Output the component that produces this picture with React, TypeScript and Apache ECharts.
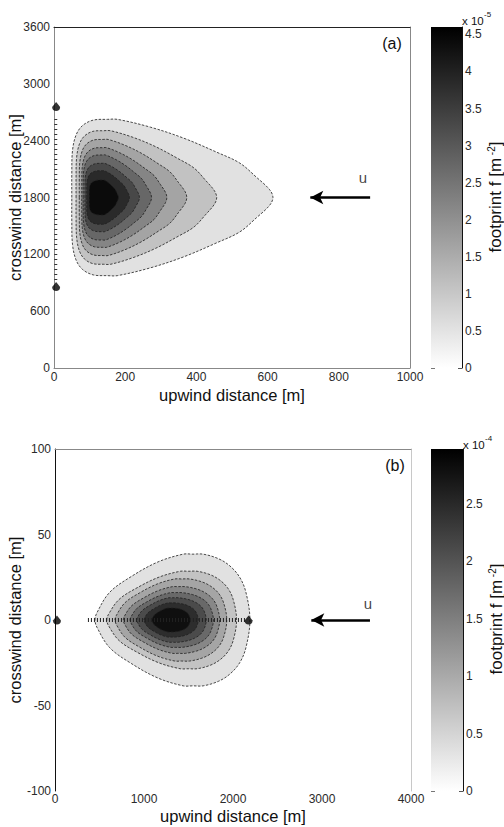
import React, { useEffect, useRef } from 'react';
import * as echarts from 'echarts';

const FONT = '"Liberation Sans", Arial, Helvetica, sans-serif';

// ---------------- Panel (a) ----------------
const aXMin = 0, aXMax = 1000, aXStep = 200;
const aYMin = 0, aYMax = 3600, aYStep = 600;
const aColorMin = 0, aColorMax = 4.6, aColorStep = 0.5; // x 10^-5
const aPlumeCenterY = 1800;
// contour rings, outermost first
const aRingLevel = [0.55, 1.1, 1.65, 2.2, 2.75, 3.3, 3.85, 4.4];
const aRingLeft = [50, 62, 71, 78, 82, 87, 92, 99];
const aRingPeakX = [150, 140, 138, 137, 136, 136, 136, 138];
const aRingRight = [615, 457, 373, 317, 274, 240, 212, 181];
const aRingHalfWidth = [825, 705, 613, 526, 449, 361, 283, 185];
// normalised ring outline (s along x, v = fraction of half width)
const aLeftProfile = [[0, 0], [0, 0.3], [0.02, 0.6], [0.12, 0.8], [0.3, 0.92], [0.6, 0.99], [1, 1]];
const aRightProfile = [[0, 1], [0.06, 1], [0.26, 0.9], [0.46, 0.76], [0.66, 0.58], [0.8, 0.44], [0.9, 0.26], [0.98, 0.1], [1, 0]];
const aMarkers = [[6, 2760], [6, 860]];
const aEdgeStripe = [[5, 930], [5, 2670]];
const aWindArrow = [[888, 1800], [720, 1800]];
const aWindLabel = [[868, 2016]];

// ---------------- Panel (b) ----------------
const bXMin = 0, bXMax = 4000, bXStep = 1000;
const bYMin = -100, bYMax = 100, bYStep = 50;
const bColorMin = 0, bColorMax = 2.98, bColorStep = 0.5; // x 10^-4
const bPlumeCenterY = 0;
const bRingLevel = [0.35, 0.7, 1.05, 1.4, 1.75, 2.1, 2.45, 2.8];
const bRingLeft = [449, 581, 674, 767, 843, 918, 1000, 1087];
const bRingPeakX = [1550, 1500, 1420, 1380, 1350, 1320, 1300, 1290];
const bRingRight = [2190, 2040, 1930, 1850, 1780, 1700, 1610, 1520];
const bRingHalfWidth = [38.5, 28.5, 24, 19.5, 16, 13, 10, 7];
const bLeftProfile = [[0, 0], [0.02, 0.11], [0.15, 0.42], [0.37, 0.66], [0.64, 0.88], [0.9, 1], [1, 1]];
const bRightProfile = [[0, 1], [0.18, 1], [0.45, 0.93], [0.65, 0.82], [0.82, 0.65], [0.93, 0.42], [1, 0]];
const bMarkers = [[22, 0], [2175, 0]];
const bCenterStripe = [[370, 0], [2150, 0]];
const bWindArrow = [[3539, 0], [2880, 0]];
const bWindLabel = [[3517, 9.4]];

type Pt = number[];

function makeRingRender(leftProfile: Pt[], rightProfile: Pt[], centerY: number, cmax: number) {
  return (_params: any, api: any) => {
    const xL = api.value(0), xT = api.value(1), xR = api.value(2), h = api.value(3), lvl = api.value(4);
    const upper: Pt[] = [];
    leftProfile.forEach(([s, v]) => upper.push([xL + s * (xT - xL), v * h]));
    rightProfile.slice(1).forEach(([s, v]) => upper.push([xT + s * (xR - xT), v * h]));
    const lower = upper.slice(1, -1).reverse().map(([x, dy]) => [x, -dy]);
    const points = upper.concat(lower).map(([x, dy]) => api.coord([x, centerY + dy]));
    const g = Math.round(255 * (1 - lvl / cmax));
    return {
      type: 'polygon',
      shape: { points, smooth: 0.35 },
      style: { fill: `rgb(${g},${g},${g})`, stroke: '#1e1e1e', lineWidth: 0.8, lineDash: [2.5, 1.5] },
    };
  };
}

function colorbarRender(_params: any, api: any) {
  const lo = api.coord([0, api.value(0)]);
  const hi = api.coord([1, api.value(1)]);
  return {
    type: 'rect',
    shape: { x: lo[0], y: hi[1], width: hi[0] - lo[0], height: lo[1] - hi[1] },
    style: {
      fill: new echarts.graphic.LinearGradient(0, 0, 0, 1, [
        { offset: 0, color: '#000000' },
        { offset: 1, color: '#ffffff' },
      ]),
    },
  };
}

const plain = (v: number) => String(v);
const tickLabel = { color: '#2a2a2a', fontSize: 12, fontFamily: FONT, formatter: plain };
const titleStyle = { color: '#111', fontSize: 16.5, fontFamily: FONT };
const MARKER = 'path://M5,0 L10,6 C10,9 8,11 5,11 C2,11 0,9 0,6 Z';

function borderAxis(gridIndex: number, min: number, max: number, position: string, color: string) {
  return {
    gridIndex, type: 'value', min, max, position,
    axisLine: { show: true, onZero: false, lineStyle: { color, width: 1 } },
    axisTick: { show: false }, axisLabel: { show: false }, splitLine: { show: false },
  };
}

function cbarAxes(gridIndex: number, min: number, max: number, step: number) {
  return [
    {
      gridIndex, type: 'value', min, max, interval: step, position: 'right',
      axisLine: { show: true, onZero: false, lineStyle: { color: '#111' } },
      axisTick: { show: true, inside: true, length: 4, lineStyle: { color: '#555' } },
      axisLabel: { ...tickLabel, margin: 3, showMaxLabel: false },
      splitLine: { show: false },
    },
    {
      gridIndex, type: 'value', min, max, interval: step, position: 'left',
      axisLine: { show: false, onZero: false },
      axisTick: { show: true, inside: true, length: 4, lineStyle: { color: '#777' } },
      axisLabel: { show: false }, splitLine: { show: false },
    },
  ];
}

function buildOption() {
  return {
    animation: false,
    backgroundColor: '#ffffff',
    textStyle: { fontFamily: FONT },
    grid: [
      { left: 54, top: 27, width: 356, height: 341, outerBoundsMode: 'none' },
      { left: 431, top: 27, width: 31, height: 341, outerBoundsMode: 'none' },
      { left: 55, top: 449, width: 356, height: 342, outerBoundsMode: 'none' },
      { left: 431, top: 449, width: 32, height: 342, outerBoundsMode: 'none' },
    ],
    xAxis: [
      {
        gridIndex: 0, type: 'value', min: aXMin, max: aXMax, interval: aXStep, position: 'bottom',
        axisLine: { show: true, onZero: false, lineStyle: { color: '#888' } },
        axisTick: { show: false }, splitLine: { show: false },
        axisLabel: { ...tickLabel, margin: 3 },
        name: 'upwind distance [m]', nameLocation: 'middle', nameGap: 18, nameMoveOverlap: false, nameTextStyle: titleStyle,
      },
      borderAxis(0, aXMin, aXMax, 'top', '#222'),
      { gridIndex: 1, type: 'value', min: 0, max: 1, show: false },
      {
        gridIndex: 2, type: 'value', min: bXMin, max: bXMax, interval: bXStep, position: 'bottom',
        axisLine: { show: false, onZero: false },
        axisTick: { show: false }, splitLine: { show: false },
        axisLabel: { ...tickLabel, margin: 2 },
        name: 'upwind distance [m]', nameLocation: 'middle', nameGap: 16.5, nameMoveOverlap: false, nameTextStyle: titleStyle,
      },
      borderAxis(2, bXMin, bXMax, 'top', '#888'),
      { gridIndex: 3, type: 'value', min: 0, max: 1, show: false },
    ],
    yAxis: [
      {
        gridIndex: 0, type: 'value', min: aYMin, max: aYMax, interval: aYStep, position: 'left',
        axisLine: { show: true, onZero: false, lineStyle: { color: '#888' } },
        axisTick: { show: false }, splitLine: { show: false },
        axisLabel: { ...tickLabel, margin: 4 },
        name: 'crosswind distance [m]', nameLocation: 'middle', nameGap: 31, nameMoveOverlap: false, nameTextStyle: titleStyle,
      },
      borderAxis(0, aYMin, aYMax, 'right', '#888'),
      ...cbarAxes(1, aColorMin, aColorMax, aColorStep),
      {
        gridIndex: 2, type: 'value', min: bYMin, max: bYMax, interval: bYStep, position: 'left',
        axisLine: { show: true, onZero: false, lineStyle: { color: '#111' } },
        axisTick: { show: false }, splitLine: { show: false },
        axisLabel: { ...tickLabel, margin: 4 },
        name: 'crosswind distance [m]', nameLocation: 'middle', nameGap: 32, nameMoveOverlap: false, nameTextStyle: titleStyle,
      },
      borderAxis(2, bYMin, bYMax, 'right', '#c8c8c8'),
      ...cbarAxes(3, bColorMin, bColorMax, bColorStep),
    ],
    series: [
      {
        type: 'custom', name: 'footprint a', xAxisIndex: 0, yAxisIndex: 0, z: 2,
        renderItem: makeRingRender(aLeftProfile, aRightProfile, aPlumeCenterY, aColorMax),
        data: aRingLeft.map((xl, i) => [xl, aRingPeakX[i], aRingRight[i], aRingHalfWidth[i], aRingLevel[i]]),
        encode: { x: [0, 2], y: 3 },
      },
      {
        type: 'line', name: 'edge a', xAxisIndex: 0, yAxisIndex: 0, z: 3, silent: true,
        data: aEdgeStripe, showSymbol: false, symbol: 'none',
        lineStyle: { color: '#333', width: 3, type: [1, 4] },
      },
      {
        type: 'scatter', name: 'markers a', xAxisIndex: 0, yAxisIndex: 0, z: 5,
        data: aMarkers, symbol: MARKER, symbolSize: [8, 9], itemStyle: { color: '#000' },
      },
      {
        type: 'scatter', name: 'wind a', xAxisIndex: 0, yAxisIndex: 0, z: 5,
        data: aWindLabel, symbolSize: 1, itemStyle: { color: 'rgba(0,0,0,0)' },
        label: { show: true, position: 'inside', formatter: 'u', fontSize: 15, color: '#111', fontFamily: FONT },
        markLine: {
          silent: true, symbol: ['none', 'arrow'], symbolSize: [10, 13],
          lineStyle: { color: '#000', width: 2.5, type: 'solid' }, label: { show: false },
          data: [[{ coord: aWindArrow[0] }, { coord: aWindArrow[1] }]],
        },
      },
      {
        type: 'custom', name: 'colorbar a', xAxisIndex: 2, yAxisIndex: 2, z: 1,
        renderItem: colorbarRender, data: [[aColorMin, aColorMax]], encode: { y: [0, 1] },
      },
      {
        type: 'custom', name: 'footprint b', xAxisIndex: 3, yAxisIndex: 4, z: 2,
        renderItem: makeRingRender(bLeftProfile, bRightProfile, bPlumeCenterY, bColorMax),
        data: bRingLeft.map((xl, i) => [xl, bRingPeakX[i], bRingRight[i], bRingHalfWidth[i], bRingLevel[i]]),
        encode: { x: [0, 2], y: 3 },
      },
      {
        type: 'line', name: 'centre b', xAxisIndex: 3, yAxisIndex: 4, z: 3, silent: true,
        data: bCenterStripe, showSymbol: false, symbol: 'none',
        lineStyle: { color: '#222', width: 4, type: [1, 2] },
      },
      {
        type: 'scatter', name: 'markers b', xAxisIndex: 3, yAxisIndex: 4, z: 5,
        data: bMarkers, symbol: MARKER, symbolSize: [8, 9], itemStyle: { color: '#000' },
      },
      {
        type: 'scatter', name: 'wind b', xAxisIndex: 3, yAxisIndex: 4, z: 5,
        data: bWindLabel, symbolSize: 1, itemStyle: { color: 'rgba(0,0,0,0)' },
        label: { show: true, position: 'inside', formatter: 'u', fontSize: 15, color: '#111', fontFamily: FONT },
        markLine: {
          silent: true, symbol: ['none', 'arrow'], symbolSize: [10, 13],
          lineStyle: { color: '#000', width: 2.5, type: 'solid' }, label: { show: false },
          data: [[{ coord: bWindArrow[0] }, { coord: bWindArrow[1] }]],
        },
      },
      {
        type: 'custom', name: 'colorbar b', xAxisIndex: 5, yAxisIndex: 6, z: 1,
        renderItem: colorbarRender, data: [[bColorMin, bColorMax]], encode: { y: [0, 1] },
      },
    ],
    graphic: [
      { type: 'text', x: 392, y: 43, style: { text: '(a)', fontSize: 16, fontFamily: FONT, fill: '#111', align: 'center', verticalAlign: 'middle' } },
      { type: 'text', x: 395, y: 465, style: { text: '(b)', fontSize: 16, fontFamily: FONT, fill: '#111', align: 'center', verticalAlign: 'middle' } },
      { type: 'text', x: 462, y: 21, style: { text: 'x 10', fontSize: 11.5, fontFamily: FONT, fill: '#111', align: 'left', verticalAlign: 'middle' } },
      { type: 'text', x: 484, y: 14, style: { text: '-5', fontSize: 8, fontFamily: FONT, fill: '#111', align: 'left', verticalAlign: 'middle' } },
      { type: 'text', x: 463, y: 445, style: { text: 'x 10', fontSize: 11.5, fontFamily: FONT, fill: '#111', align: 'left', verticalAlign: 'middle' } },
      { type: 'text', x: 485, y: 438, style: { text: '-4', fontSize: 8, fontFamily: FONT, fill: '#111', align: 'left', verticalAlign: 'middle' } },
      {
        type: 'text', x: 495, y: 197, rotation: Math.PI / 2,
        style: {
          text: '{a|footprint f [m}{s| -2}{a|]}', align: 'center', verticalAlign: 'middle', fill: '#111',
          rich: { a: { fontSize: 17, fontFamily: FONT, fill: '#111' }, s: { fontSize: 10, fontFamily: FONT, fill: '#111', verticalAlign: 'top' } },
        },
      },
      {
        type: 'text', x: 496, y: 619, rotation: Math.PI / 2,
        style: {
          text: '{a|footprint f [m}{s| -2}{a|]}', align: 'center', verticalAlign: 'middle', fill: '#111',
          rich: { a: { fontSize: 17, fontFamily: FONT, fill: '#111' }, s: { fontSize: 10, fontFamily: FONT, fill: '#111', verticalAlign: 'top' } },
        },
      },
    ],
  };
}

export default function App() {
  const ref = useRef<HTMLDivElement>(null);
  useEffect(() => {
    if (!ref.current) return;
    const chart = echarts.init(ref.current, undefined, { renderer: 'svg' });
    chart.setOption(buildOption() as any);
    return () => chart.dispose();
  }, []);
  return <div ref={ref} style={{ position: 'absolute', left: 0, top: 0, width: 504, height: 827, background: '#fff' }} />;
}
